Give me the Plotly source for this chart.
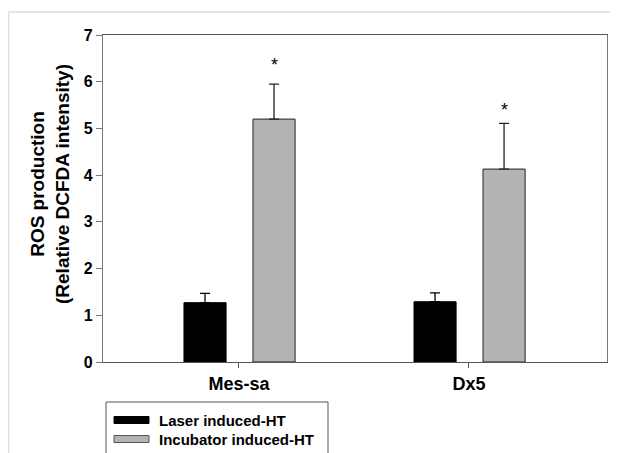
import plotly.graph_objects as go

categories = ["Mes-sa", "Dx5"]
series_names = ["Laser induced-HT", "Incubator induced-HT"]
laser_values = [1.27, 1.29]
laser_errors = [0.20, 0.19]
incubator_values = [5.20, 4.13]
incubator_errors = [0.75, 0.98]
star_y = [6.35, 5.40]
y_ticks = [0, 1, 2, 3, 4, 5, 6, 7]

xpos = list(range(len(categories)))
BAR_W = 0.183
FONT = "Liberation Sans, Arial, sans-serif"

# plot area in page pixels (page has an 8px body offset)
PL, PR, PT, PB = 103, 607, 35, 362
PW, PH = PR - PL, PB - PT


def px(x):
    return (x - PL) / PW


def py(y):
    return (PB - y) / PH


fig = go.Figure()
fig.add_trace(go.Bar(
    x=xpos, y=laser_values, width=BAR_W, offset=-0.239,
    marker=dict(color="#000000", line=dict(color="#000000", width=1)),
    error_y=dict(type="data", array=laser_errors, arrayminus=[0] * len(laser_errors),
                 symmetric=False, color="#000000", thickness=1.3, width=5),
    name=series_names[0], showlegend=False))
fig.add_trace(go.Bar(
    x=xpos, y=incubator_values, width=BAR_W, offset=0.061,
    marker=dict(color="#b3b3b3", line=dict(color="#222222", width=1)),
    error_y=dict(type="data", array=incubator_errors, arrayminus=[0] * len(incubator_errors),
                 symmetric=False, color="#222222", thickness=1.3, width=5),
    name=series_names[1], showlegend=False))

# significance asterisks
for i, sy in enumerate(star_y):
    fig.add_annotation(x=xpos[i] + 0.061 + BAR_W / 2, y=sy, text="*", showarrow=False,
                       font=dict(size=18, color="#000", family=FONT), xanchor="center",
                       yanchor="middle")

# y axis title
fig.add_annotation(xref="paper", yref="paper", x=px(50), y=py(184), textangle=-90,
                   text="<b>ROS production<br>(Relative DCFDA intensity)</b>", showarrow=False,
                   xanchor="center", yanchor="middle",
                   font=dict(size=19, color="#000", family=FONT))

# manual legend (partially clipped by the page edge as in the original)
fig.add_shape(type="rect", xref="paper", yref="paper", x0=px(106), x1=px(328),
              y0=py(475), y1=py(402), line=dict(color="#555", width=1), fillcolor="#fff")
legend_rows = [(420, "#000000", "#000000"), (439, "#b3b3b3", "#555555")]
for (yc, fc, lc), name in zip(legend_rows, series_names):
    fig.add_shape(type="rect", xref="paper", yref="paper", x0=px(114), x1=px(149),
                  y0=py(yc + 3.5), y1=py(yc - 3.5), line=dict(color=lc, width=1), fillcolor=fc)
    fig.add_annotation(xref="paper", yref="paper", x=px(157), y=py(yc),
                       text="<b>%s</b>" % name, showarrow=False, xanchor="left", yanchor="middle",
                       font=dict(size=15, color="#000", family=FONT))

# outer frame lines
fig.add_shape(type="line", xref="paper", yref="paper", x0=px(8.5), x1=px(640),
              y0=py(12), y1=py(12), line=dict(color="#dddddd", width=1.5))
fig.add_shape(type="line", xref="paper", yref="paper", x0=px(8.5), x1=px(8.5),
              y0=py(12), y1=py(480), line=dict(color="#dddddd", width=1.5))

fig.update_layout(
    width=618, height=453,
    margin=dict(l=PL - 8, r=618 - (PR - 8), t=PT - 8, b=453 - (PB - 8), autoexpand=False),
    paper_bgcolor="#ffffff", plot_bgcolor="#ffffff",
    barmode="overlay",
    xaxis=dict(range=[-0.591, 1.6], tickvals=xpos, ticktext=["<b>%s</b>" % c for c in categories],
               showgrid=False, zeroline=False, showline=True, linecolor="#555", linewidth=1.2,
               mirror=True, ticks="outside", ticklen=5, tickcolor="#555",
               tickfont=dict(size=18, color="#000", family=FONT)),
    yaxis=dict(range=[0, 7], tickvals=y_ticks, ticktext=["<b>%d</b>" % t for t in y_ticks],
               showgrid=False, zeroline=False, showline=True, linecolor="#777", linewidth=1.2,
               mirror=True, ticks="outside", ticklen=6, tickcolor="#777",
               tickfont=dict(size=16, color="#000", family=FONT)),
)

fig.write_html("out.html")
